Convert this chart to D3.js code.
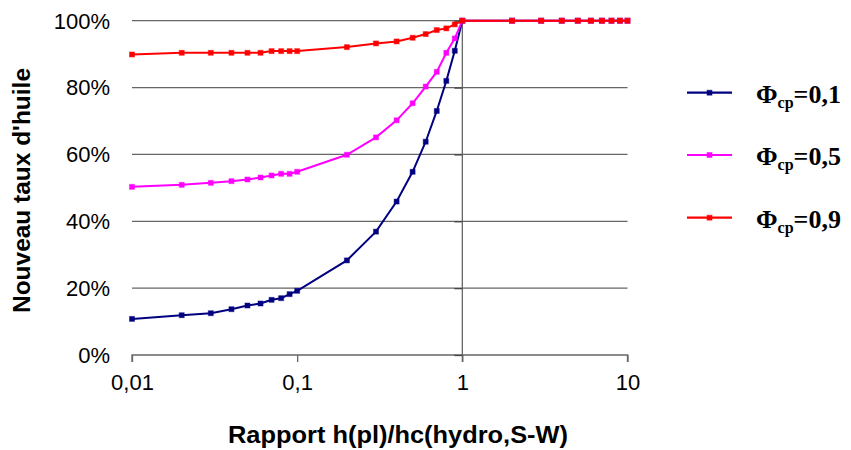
<!DOCTYPE html>
<html><head><meta charset="utf-8">
<script src="https://cdn.jsdelivr.net/npm/d3@7/dist/d3.min.js"></script>
<style>body{margin:0;background:#fff}svg{display:block}</style>
</head><body>
<svg id="c" width="851" height="450"></svg>
<script>
const xValues = [0.01,0.02,0.03,0.04,0.05,0.06,0.07,0.08,0.09,0.1,0.2,0.3,0.4,0.5,0.6,0.7,0.8,0.9,1,2,3,4,5,6,7,8,9,10];
const phi01 = [10.8,11.9,12.5,13.7,14.8,15.4,16.5,17.0,18.2,19.2,28.3,36.9,45.9,54.8,63.8,73.0,82.0,91.0,100,100,100,100,100,100,100,100,100,100];
const phi05 = [50.3,50.9,51.5,52.0,52.5,53.1,53.7,54.2,54.2,54.8,59.9,65.1,70.2,75.3,80.3,84.7,90.4,94.7,100,100,100,100,100,100,100,100,100,100];
const phi09 = [89.9,90.4,90.4,90.4,90.4,90.4,90.9,90.9,90.9,90.9,92.1,93.2,93.8,94.9,96.0,97.2,97.7,98.9,100,100,100,100,100,100,100,100,100,100];
const seriesNames = ["0,1","0,5","0,9"];
const seriesColors = ["#000080","#ff00ff","#ff0000"];
const xTicks = [0.01,0.1,1,10];
const xTickLabels = ["0,01","0,1","1","10"];
const yTicks = [0,20,40,60,80,100];
const yTickLabels = ["0%","20%","40%","60%","80%","100%"];

const svg = d3.select("#c");
const x = d3.scaleLog().domain([0.01,10]).range([132,627.5]);
const y = d3.scaleLinear().domain([0,100]).range([355,20.7]);
const gridColor = "#666";
const font = "'Liberation Sans', Arial, sans-serif";

// gridlines
svg.append("g").selectAll("line").data(yTicks.filter(d=>d>0)).join("line")
  .attr("x1",x(0.01)).attr("x2",x(10)).attr("y1",d=>y(d)).attr("y2",d=>y(d))
  .attr("stroke",gridColor).attr("stroke-width",1.3);

// bottom axis
const xAxis = d3.axisBottom(x).tickValues(xTicks).tickSize(7).tickFormat((d,i)=>xTickLabels[i]);
const gx = svg.append("g").attr("transform",`translate(0,${y(0)})`).call(xAxis);
gx.select(".domain").attr("stroke",gridColor).attr("stroke-width",1.3).attr("d",`M${x(0.01)},7V0H${x(10)}V7`);
gx.selectAll(".tick line").attr("stroke",gridColor).attr("stroke-width",1.3);
gx.selectAll(".tick text").attr("font-family",font).attr("font-size",22).attr("fill","#000").attr("dy","1.15em");

// vertical axis at x=1
const yAxis = d3.axisLeft(y).tickValues(yTicks).tickSize(8).tickFormat("");
const gy = svg.append("g").attr("transform",`translate(${x(1)},0)`).call(yAxis);
gy.select(".domain").attr("stroke",gridColor).attr("stroke-width",1.3).attr("d",`M0,${y(0)+7}V${y(100)}`);
gy.selectAll(".tick line").attr("stroke","#444").attr("stroke-width",1.3);

// y tick labels at left
svg.append("g").selectAll("text").data(yTicks).join("text")
  .attr("x",110).attr("y",d=>y(d)).attr("dy","0.36em").attr("text-anchor","end")
  .attr("font-family",font).attr("font-size",22).attr("fill","#000")
  .text((d,i)=>yTickLabels[i]);

// series
const allSeries = [phi01,phi05,phi09];
const line = d3.line().x(d=>x(d[0])).y(d=>y(d[1]));
allSeries.forEach((vals,si)=>{
  const pts = xValues.map((xv,i)=>[xv,vals[i]]);
  const g = svg.append("g");
  g.append("path").datum(pts).attr("d",line).attr("fill","none")
    .attr("stroke",seriesColors[si]).attr("stroke-width",2);
  g.selectAll("rect").data(pts).join("rect")
    .attr("x",d=>x(d[0])-2.5).attr("y",d=>y(d[1])-2.5).attr("width",5).attr("height",5)
    .attr("fill",seriesColors[si]).attr("stroke",seriesColors[si]).attr("stroke-opacity",0.45).attr("stroke-width",1);
});

// axis titles
svg.append("text").attr("x",398).attr("y",443).attr("text-anchor","middle")
  .attr("font-family",font).attr("font-weight","bold").attr("font-size",23)
  .attr("textLength",340).attr("lengthAdjust","spacingAndGlyphs")
  .text("Rapport h(pl)/hc(hydro,S-W)");
svg.append("text").attr("transform","translate(30,190.5) rotate(-90)").attr("text-anchor","middle")
  .attr("font-family",font).attr("font-weight","bold").attr("font-size",23)
  .attr("textLength",245).attr("lengthAdjust","spacingAndGlyphs")
  .text("Nouveau taux d'huile");

// legend
const legY = [92.7,155,217.7];
seriesNames.forEach((n,i)=>{
  const g = svg.append("g");
  g.append("line").attr("x1",687).attr("x2",732).attr("y1",legY[i]).attr("y2",legY[i])
    .attr("stroke",seriesColors[i]).attr("stroke-width",2.2);
  g.append("rect").attr("x",709.5-2.5).attr("y",legY[i]-2.5).attr("width",5).attr("height",5)
    .attr("fill",seriesColors[i]).attr("stroke",seriesColors[i]).attr("stroke-opacity",0.45);
  const t = g.append("text").attr("x",756).attr("y",legY[i]+10)
    .attr("font-family","'Liberation Serif','Times New Roman',serif").attr("font-weight","bold").attr("font-size",26);
  t.append("tspan").text("Φ");
  t.append("tspan").attr("font-size",16).attr("dy",5).text("cp");
  t.append("tspan").attr("dy",-5).text("=" + n);
});
</script>
</body></html>
